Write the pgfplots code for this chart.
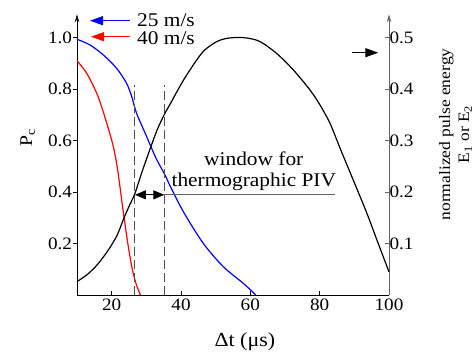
\documentclass[border=0pt]{standalone}
\usepackage{fontspec}
\setmainfont{Liberation Serif}[FakeStretch=1.1]
\usepackage{pgfplots}
\pgfplotsset{compat=1.18}
\usetikzlibrary{arrows.meta}
\newcommand{\fs}[1]{\fontsize{#1}{#1}\selectfont}
\definecolor{axgray}{RGB}{100,100,100}
\definecolor{dashgray}{RGB}{80,80,80}
\begin{document}
\begin{tikzpicture}[x=1bp,y=1bp]
\path[use as bounding box] (0,0) rectangle (476,354);
% left axis
\begin{axis}[
  at={(77bp,59bp)}, anchor=south west,
  scale only axis, width=312bp, height=280.7bp,
  xmin=10, xmax=100, ymin=0, ymax=1.09,
  axis x line*=bottom, axis y line*=left,
  axis line style={line width=1bp, black},
  y axis line style={-{Stealth[length=8bp,width=4.5bp]}},
  xtick={20,40,60,80,100}, ytick={0.2,0.4,0.6,0.8,1.0},
  xtick align=inside, ytick align=outside,
  major tick length=4.5bp,
  every tick/.style={black, line width=0.8bp},
  /pgf/number format/assume math mode=true,
  tick label style={font=\fs{17.5}},
  yticklabel style={/pgf/number format/fixed,/pgf/number format/fixed zerofill,/pgf/number format/precision=1, xshift=3bp},
  xlabel={Δt (μs)},
  xlabel style={at={(axis description cs:0.538,-0.166)}, anchor=center, font=\fs{20}},
  ylabel={P\textsubscript{c}},
  ylabel style={at={(axis description cs:-0.158,0.559)}, anchor=center, font=\fs{18}},
  clip=false,
]
\addplot[blue, line width=1.2bp, smooth, tension=0.5] coordinates {
(10,0.993) (13.75,0.971) (17.6,0.932) (21.45,0.880) (24.3,0.822) (25.8,0.770) (27.2,0.705) (30.1,0.615) (32.8,0.531) (35.4,0.466) (36.8,0.425) (40.7,0.323) (46.4,0.201) (52.2,0.110) (58.0,0.045) (61.6,0.0)
};
\addplot[red, line width=1.2bp, smooth, tension=0.5] coordinates {
(10,0.91) (12.8,0.861) (15.7,0.783) (17.6,0.71) (19.5,0.625) (20.5,0.575) (21.5,0.505) (22.4,0.42) (23.4,0.317) (24.8,0.188) (25.8,0.110) (27.0,0.045) (28.3,0.0)
};
\draw[dashgray, line width=1bp, dash pattern=on 9bp off 4bp] (axis cs:26.7,0) -- (axis cs:26.7,0.815);
\draw[dashgray, line width=1bp, dash pattern=on 9bp off 4bp] (axis cs:35.2,0) -- (axis cs:35.2,0.815);
\draw[axgray, line width=1bp] (axis cs:35.2,0.389) -- (axis cs:84.4,0.389);
\draw[black, line width=1bp, {Triangle[length=11bp,width=9bp]}-{Triangle[length=11bp,width=9bp]}] (axis cs:26.7,0.389) -- (axis cs:35.2,0.389);
\node[anchor=south, inner sep=0, align=center, font=\fontsize{19.5}{20.5}\selectfont] at (axis cs:61,0.405) {window for\\thermographic PIV};
\end{axis}
% right axis
\begin{axis}[
  at={(77bp,59bp)}, anchor=south west,
  scale only axis, width=312bp, height=280.7bp,
  xmin=10, xmax=100, ymin=0, ymax=0.545,
  axis x line=none, axis y line*=right,
  axis line style={line width=1bp, axgray},
  y axis line style={-{Stealth[length=8bp,width=4.5bp]}},
  xtick=\empty, ytick={0.1,0.2,0.3,0.4,0.5},
  ytick align=inside,
  major tick length=4.5bp,
  every tick/.style={axgray, line width=0.8bp},
  /pgf/number format/assume math mode=true,
  tick label style={font=\fs{17.5}},
  yticklabel style={/pgf/number format/fixed,/pgf/number format/fixed zerofill,/pgf/number format/precision=1, xshift=-3bp},
  ylabel={normalized pulse energy\\E\textsubscript{1} or E\textsubscript{2}},
  ylabel style={at={(axis description cs:1.213,0.572)}, anchor=center, align=center, font=\fontsize{16}{19}\selectfont},
  clip=false,
]
\addplot[black, line width=1.2bp, smooth, tension=0.5] coordinates {
(10,0.026) (13,0.04) (16,0.06) (19,0.087) (21.5,0.115) (23.4,0.147) (25,0.172) (26.7,0.197) (28.7,0.238) (31.1,0.284) (33.2,0.322) (35.3,0.352) (36.8,0.370) (40.7,0.417) (44.5,0.456) (46.9,0.476) (50.3,0.492) (53,0.498) (56.1,0.500) (59,0.499) (62.8,0.492) (67.6,0.469) (72.4,0.437) (77.2,0.398) (80,0.37) (83,0.333) (86,0.283) (89.7,0.223) (93.6,0.159) (96.5,0.107) (100,0.045)
};
\end{axis}
% legend-like annotations
\draw[blue, line width=1.2bp, -{Triangle[length=13bp,width=9bp]}] (130,333.3) -- (90,333.3);
\node[anchor=base west, inner sep=0, font=\fs{19.5}] at (137,327.5) {25 m/s};
\draw[red, line width=1.2bp, -{Triangle[length=13bp,width=9bp]}] (130,317.3) -- (91,317.3);
\node[anchor=base west, inner sep=0, font=\fs{19.5}] at (137,309.7) {40 m/s};
\draw[black, line width=1.2bp, -{Triangle[length=13bp,width=9bp]}] (351.7,301.3) -- (378.3,301.3);
\end{tikzpicture}
\end{document}
